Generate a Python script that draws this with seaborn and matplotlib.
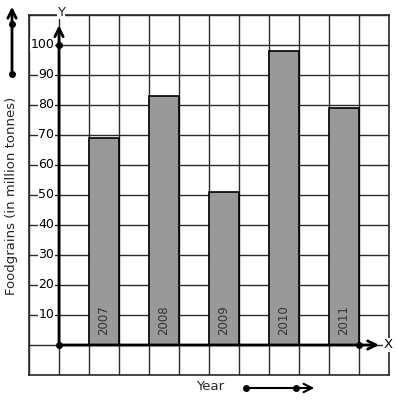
import numpy as np
import pandas as pd
import matplotlib
matplotlib.use("Agg")
import matplotlib.pyplot as plt
import seaborn as sns

years = ["2007", "2008", "2009", "2010", "2011"]
foodgrains = [69, 83, 51, 98, 79]
ytick_values = [10, 20, 30, 40, 50, 60, 70, 80, 90, 100]

sns.set_style("white")
plt.rcParams['font.family'] = ['DejaVu Sans']

W, H = 397, 401
fig = plt.figure(figsize=(W / 100, H / 100), dpi=100)
ax = fig.add_axes([29 / W, (H - 375) / H, 360 / W, 360 / H])

df = pd.DataFrame({"year": years, "value": foodgrains})
sns.barplot(data=df, x="year", y="value", order=years, width=0.5,
            color="#999999", saturation=1, edgecolor="black", linewidth=1.2, ax=ax)

ax.set_xlim(-1.25, 4.75)
ax.set_ylim(-10, 110)
ax.set_xticks(np.arange(-1.25, 4.76, 0.5), minor=True)
ax.set_yticks(np.arange(-10, 111, 10), minor=True)
ax.set_xticks([])
ax.set_yticks([])
ax.set_axisbelow(True)
ax.grid(which="minor", color="#2a2a2a", linewidth=1.0)
ax.tick_params(which="both", length=0)
ax.set_xlabel("")
ax.set_ylabel("")
for s in ax.spines.values():
    s.set_visible(True)
    s.set_color("#2a2a2a")
    s.set_linewidth(1.2)

# year labels inside bars
for p, yr in zip(ax.patches, years):
    ax.text(p.get_x() + p.get_width() / 2, 3.3, yr, rotation=90, ha="center", va="bottom",
            fontsize=8.5, color="#333333", zorder=5)

# axes lines
yax = -0.75
ax.annotate("", xy=(yax, 107.5), xytext=(yax, 0),
            arrowprops=dict(arrowstyle="->", lw=2, color="black", mutation_scale=15), zorder=6)
ax.annotate("", xy=(4.63, 0), xytext=(yax, 0),
            arrowprops=dict(arrowstyle="->", lw=2, color="black", mutation_scale=15), zorder=6)
ax.plot([yax, yax, 4.25], [0, 100, 0], "o", color="black", ms=4, zorder=7, clip_on=False)

for v in ytick_values:
    ax.text(yax - 0.08, v, str(v), ha="right", va="center", fontsize=9, color="black",
            bbox=dict(facecolor="white", edgecolor="none", pad=0.3), zorder=4)

ax.text(4.74, 0, "X", ha="center", va="center", fontsize=9.5, color="black",
        bbox=dict(facecolor="white", edgecolor="none", pad=0.3), zorder=8, clip_on=False)
fig.text(61 / W, 1 - 12 / H, "Y", ha="center", va="center", fontsize=9.5,
         bbox=dict(facecolor="white", edgecolor="none", pad=0.3))

# outer labels
fig.text(12 / W, 1 - 196 / H, "Foodgrains (in million tonnes)", rotation=90,
         ha="center", va="center", fontsize=9.5)
fig.text(210 / W, 1 - 387 / H, "Year", ha="center", va="center", fontsize=9.5)

# outer arrows
fig.add_artist(matplotlib.patches.FancyArrowPatch((12 / W, 1 - 74 / H), (12 / W, 1 - 4 / H),
               transform=fig.transFigure, arrowstyle="->", lw=2, color="black", mutation_scale=15))
fig.add_artist(matplotlib.lines.Line2D([12 / W, 12 / W], [1 - 24 / H, 1 - 74 / H], transform=fig.transFigure,
               marker="o", ms=4, lw=0, color="black"))
fig.add_artist(matplotlib.patches.FancyArrowPatch((246 / W, 1 - 388 / H), (317 / W, 1 - 388 / H),
               transform=fig.transFigure, arrowstyle="->", lw=1.5, color="black", mutation_scale=15))
fig.add_artist(matplotlib.lines.Line2D([246 / W, 296 / W], [1 - 388 / H, 1 - 388 / H], transform=fig.transFigure,
               marker="o", ms=4, lw=0, color="black"))

fig.savefig("out.png", dpi=100, facecolor="white")
